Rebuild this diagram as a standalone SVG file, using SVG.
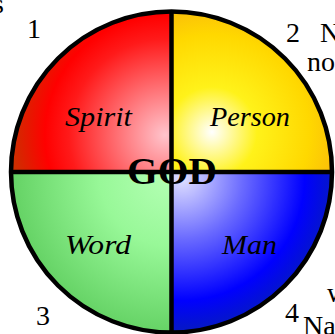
<svg xmlns="http://www.w3.org/2000/svg" width="335" height="334" viewBox="0 0 335 334">
<style>
.lbl{font-family:"Liberation Serif","DejaVu Serif",serif;font-style:italic;font-size:27px;fill:#000}
.num{font-family:"Liberation Serif","DejaVu Serif",serif;font-size:28px;fill:#000}
.god{font-family:"Liberation Serif","DejaVu Serif",serif;font-weight:bold;font-size:37px;fill:#000}
.edge{fill:none;stroke:#000;stroke-width:4.5}
</style>
<defs>
<radialGradient id="gRed" gradientUnits="userSpaceOnUse" cx="165" cy="135" r="160">
<stop offset="0" stop-color="#ffc4cc"/>
<stop offset="0.6" stop-color="#ff1a1a"/>
<stop offset="0.75" stop-color="#ff0000"/>
<stop offset="1" stop-color="#c43800"/>
</radialGradient>
<radialGradient id="gYel" gradientUnits="userSpaceOnUse" cx="212" cy="132" r="150">
<stop offset="0" stop-color="#ffffff"/>
<stop offset="0.3" stop-color="#fff21a"/>
<stop offset="0.65" stop-color="#ffd800"/>
<stop offset="1" stop-color="#f7aa10"/>
</radialGradient>
<radialGradient id="gGrn" gradientUnits="userSpaceOnUse" cx="170" cy="176" r="200">
<stop offset="0" stop-color="#b4ffb4"/>
<stop offset="0.35" stop-color="#98f898"/>
<stop offset="1" stop-color="#4cc04c"/>
</radialGradient>
<radialGradient id="gBlu" gradientUnits="userSpaceOnUse" cx="182" cy="178" r="175">
<stop offset="0" stop-color="#e0e0ff"/>
<stop offset="0.35" stop-color="#6a6aff"/>
<stop offset="0.7" stop-color="#0000ff"/>
<stop offset="1" stop-color="#0a2a9a"/>
</radialGradient>
</defs>
<g id="quadrant-spirit">
<path d="M171.5,172 L11,172 A160.5,160.5 0 0 1 171.5,11.5 Z" fill="url(#gRed)"/>
<text class="lbl" x="65" y="126" textLength="67" lengthAdjust="spacingAndGlyphs">Spirit</text>
</g>
<g id="quadrant-person">
<path d="M171.5,172 L171.5,11.5 A160.5,160.5 0 0 1 332,172 Z" fill="url(#gYel)"/>
<text class="lbl" x="210" y="126" textLength="80" lengthAdjust="spacingAndGlyphs">Person</text>
</g>
<g id="quadrant-word">
<path d="M171.5,172 L171.5,332.5 A160.5,160.5 0 0 1 11,172 Z" fill="url(#gGrn)"/>
<text class="lbl" x="65" y="254" textLength="66" lengthAdjust="spacingAndGlyphs">Word</text>
</g>
<g id="quadrant-man">
<path d="M171.5,172 L332,172 A160.5,160.5 0 0 1 171.5,332.5 Z" fill="url(#gBlu)"/>
<text class="lbl" x="222" y="254" textLength="55" lengthAdjust="spacingAndGlyphs">Man</text>
</g>
<g id="connectors">
<circle class="edge" cx="171.5" cy="172" r="160.5"/>
<line class="edge" x1="171.5" y1="11.5" x2="171.5" y2="332.5"/>
<line class="edge" x1="11" y1="172" x2="332" y2="172"/>
</g>
<g id="center-god">
<text class="god" x="127" y="184" textLength="90" lengthAdjust="spacingAndGlyphs">GOD</text>
</g>
<g id="outer-text">
<text class="num" x="-7" y="13" font-size="22">s</text>
<text class="num" x="27" y="38">1</text>
<text class="num" x="286" y="42">2</text>
<text class="num" x="320" y="42">N</text>
<text class="num" x="307" y="71">no</text>
<text class="num" x="36" y="325">3</text>
<text class="num" x="285" y="322">4</text>
<text class="num" x="327" y="302">w</text>
<text class="num" x="303" y="335">Na</text>
</g>
</svg>
